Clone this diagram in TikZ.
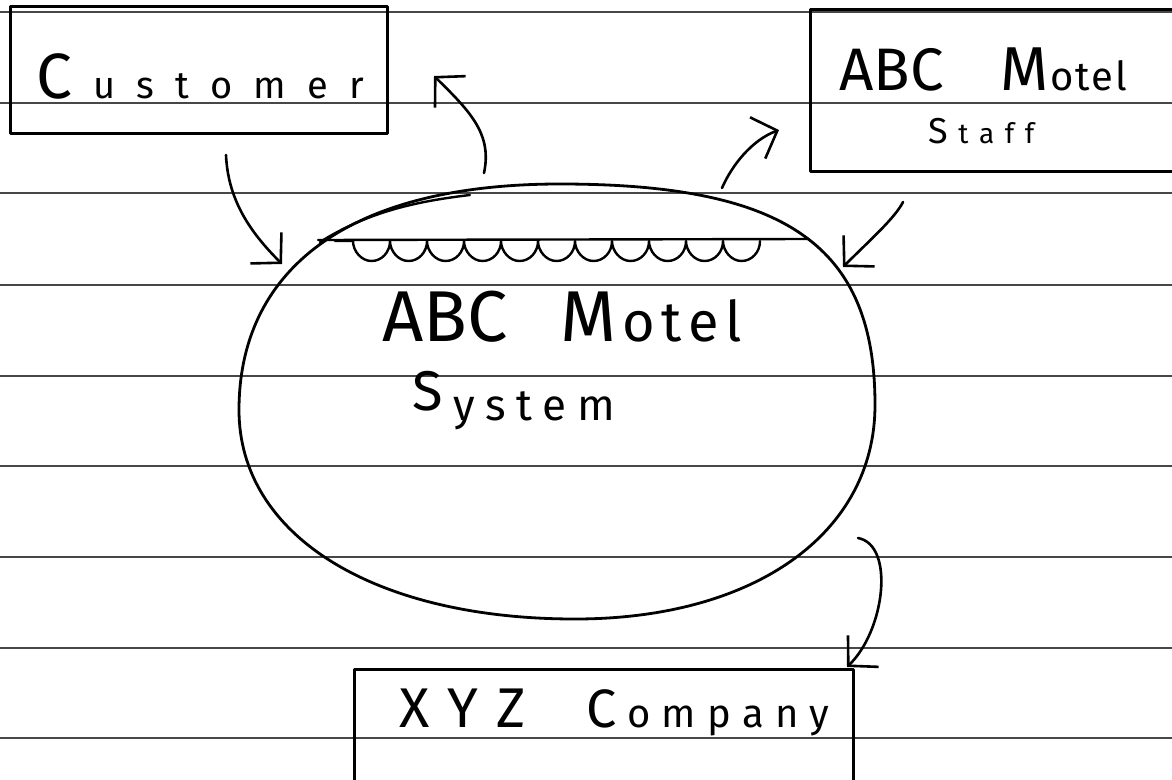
\documentclass[tikz,border=0pt]{standalone}
\usepackage{fontspec}
\newfontfamily\hand{Fira Sans}
\usetikzlibrary{arrows.meta,decorations.pathmorphing}

% spread the letters of a word evenly over a given width
\makeatletter
\newcommand\spread[2]{\hbox to #1{\@tfor\ch:=#2\do{\ch\hfil}\unskip}}
\makeatother
\newcommand\handsize[1]{\hand\fontsize{#1}{#1}\selectfont}
\newcommand\hcap[2]{{\fontsize{#1}{#1}\selectfont #2}}

\begin{document}
\begin{tikzpicture}[x=1pt,y=-1pt,
  ink/.style={line width=3pt, line cap=round, line join=round},
  entity/.style={ink, draw, rectangle, inner sep=0pt},
  flow/.style={line width=2.6pt, line cap=round, line join=round,
    -{Straight Barb[length=21pt,width=44pt,line width=2.6pt]}},
  paperline/.style={black!72, line width=1.5pt},
  handtext/.style={anchor=base west, inner sep=0pt},
]
\useasboundingbox (0,0) rectangle (1172,779);
\fill[white] (0,0) rectangle (1172,779);

% ruled paper
\foreach \y in {12,103,193,285,376,466,557,648,738}
  \draw[paperline] (0,\y) -- (1172,\y);

% external entities
\node[entity, minimum width=377pt, minimum height=127pt] (customer) at (198.5,69.5) {};
\node[entity, minimum width=375pt, minimum height=162pt] (staff) at (997.5,90) {};
\node[entity, minimum width=499pt, minimum height=131pt] (company) at (603.5,734.5) {};

\node[handtext, font=\handsize{38}] (customer-label) at (36,98)
  {\spread{328pt}{{\hcap{64}{C}}ustomer}};
\node[handtext, font=\handsize{40}] (staff-label) at (839,90)
  {\spread{104pt}{{\hcap{60}{A}}{\hcap{60}{B}}{\hcap{60}{C}}}\hskip 57pt\spread{127pt}{{\hcap{62}{M}}otel}};
\node[handtext, font=\handsize{28}] (staff-role) at (928,143)
  {\spread{106pt}{{\hcap{36}{S}}taff}};
\node[handtext, font=\handsize{40}] (company-label) at (399,727)
  {\spread{127pt}{{\hcap{56}{X}}{\hcap{56}{Y}}{\hcap{56}{Z}}}\hskip 60pt\spread{243pt}{{\hcap{54}{C}}ompany}};

% the process bubble
\draw[ink, line width=2.8pt] (239,410) .. controls (239,274) and (342,184) .. (560,184)
  .. controls (787,184) and (875,246) .. (875,405)
  .. controls (875,533) and (755,619) .. (575,619)
  .. controls (373,619) and (239,535) .. (239,410) -- cycle;
\draw[ink, line width=2.4pt] (320,242) .. controls (365,214) and (410,202) .. (470,195);

% struck-out first attempt at the title
\draw[ink, line width=2.4pt] (318,240) -- (808,239);
\draw[ink, line width=2.4pt, decorate,
  decoration={bumps, amplitude=20pt, segment length=74pt}] (760,241) -- (335,241);

\node[handtext, font=\handsize{56}] (system-label) at (382,341)
  {\spread{106pt}{{\hcap{72}{A}}{\hcap{72}{B}}{\hcap{72}{C}}}\hskip 72pt\spread{182pt}{{\hcap{72}{M}}otel}};
\node[handtext, font=\handsize{44}] (system-role) at (412,420)
  {\spread{203pt}{{\raisebox{10pt}{\hcap{56}{S}}}ystem}};

% data flows
\coordinate (cust-out) at (226,155);
\coordinate (sys-in-cust) at (282,264);
\coordinate (sys-out-cust) at (484,173);
\coordinate (cust-in) at (434,76);
\coordinate (sys-out-staff) at (722,188);
\coordinate (staff-in) at (779,130);
\coordinate (staff-out) at (903,202);
\coordinate (sys-in-staff) at (843,267);
\coordinate (sys-out-comp) at (858,538);
\coordinate (comp-in) at (847,667);

\draw[flow] (cust-out) .. controls (228,200) and (250,232) .. (sys-in-cust);
\draw[flow] (sys-out-cust) .. controls (492,135) and (472,113) .. (cust-in);
\draw[flow] (sys-out-staff) .. controls (732,165) and (752,140) .. (staff-in);
\draw[flow] (staff-out) .. controls (895,218) and (870,240) .. (sys-in-staff);
\draw[flow] (sys-out-comp) .. controls (895,545) and (885,630) .. (comp-in);
\end{tikzpicture}
\end{document}
